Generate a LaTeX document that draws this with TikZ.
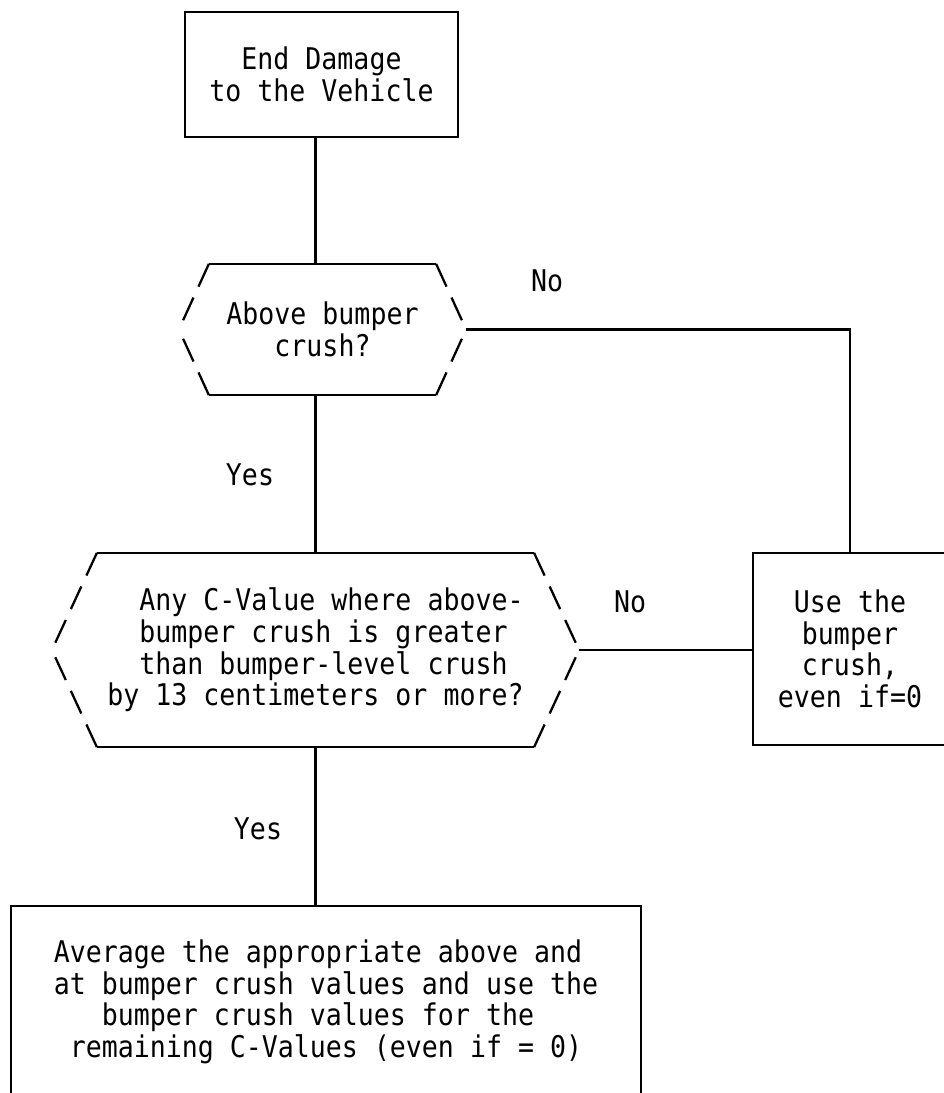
\documentclass[tikz,border=0pt]{standalone}
\usepackage{fontspec}
\newfontfamily\plotfont[FakeStretch=0.89]{DejaVu Sans Mono}
\usetikzlibrary{calc}

\begin{document}
\begin{tikzpicture}[
  x=0.02cm, y=-0.02cm, line width=1.3pt,
  font=\plotfont\fontsize{17}{18}\selectfont,
  box/.style={draw, rectangle, inner sep=0pt, align=center},
  hexbox/.style={rectangle, inner sep=0pt},
  slant/.style={dash pattern=on 0.5cm off 0.24cm},
]
  \useasboundingbox (0,0) rectangle (944,1093);
  \clip (0,0) rectangle (944,1093);
  \fill[white] (0,0) rectangle (944,1093);

  % start box
  \node[box, minimum width=5.46cm, minimum height=2.5cm] (start) at (321.5,74.5)
    {End Damage\\to the Vehicle};

  % first question
  \node[hexbox, align=center, minimum width=4.5cm, minimum height=2.58cm] (q1) at (322.5,329.5)
    {Above bumper\\crush?};
  \coordinate (q1w) at ($(q1.west)+(-30,0)$);
  \coordinate (q1e) at ($(q1.east)+(30,0)$);
  \draw (q1.north west) -- (q1.north east);
  \draw (q1.south west) -- (q1.south east);
  \draw[slant] (q1.north west) -- (q1w);
  \draw[slant] (q1.south west) -- (q1w);
  \draw[slant] (q1.north east) -- (q1e);
  \draw[slant] (q1.south east) -- (q1e);

  % second question
  \node[hexbox, align=left, minimum width=8.7cm, minimum height=3.84cm] (q2) at (315.5,650)
    {\hphantom{xx}Any C-Value where above-\\
     \hphantom{xx}bumper crush is greater\\
     \hphantom{xx}than bumper-level crush\\
     by 13 centimeters or more?};
  \coordinate (q2w) at ($(q2.west)+(-45,0)$);
  \coordinate (q2e) at ($(q2.east)+(45,0)$);
  \draw (q2.north west) -- (q2.north east);
  \draw (q2.south west) -- (q2.south east);
  \draw[slant] (q2.north west) -- (q2w);
  \draw[slant] (q2.south west) -- (q2w);
  \draw[slant] (q2.north east) -- (q2e);
  \draw[slant] (q2.south east) -- (q2e);

  % outcomes
  \node[box, minimum width=3.88cm, minimum height=3.84cm] (use) at (850,649)
    {Use the\\bumper\\crush,\\even if=0};
  \node[box, align=left, minimum width=12.6cm, minimum height=3.84cm] (avg) at (326,1002)
    {Average the appropriate above and\\
     at bumper crush values and use the\\
     \hphantom{xxx}bumper crush values for the\\
     \hphantom{x}remaining C-Values (even if = 0)};

  % connectors
  \draw (start.south -| q2.north) -- (q1.north -| q2.north);
  \draw (q1.south -| q2.north) -- (q2.north);
  \draw (q2.south) -- (avg.north -| q2.south);
  \draw (q1e) -- (q1e -| use.north) -- (use.north);
  \draw (q2e) -- (q2e -| use.west);

  \node (no1) at (547,281) {No};
  \node (yes1) at (250,475) {Yes};
  \node (no2) at (630,602) {No};
  \node (yes2) at (258,829) {Yes};
\end{tikzpicture}
\end{document}
